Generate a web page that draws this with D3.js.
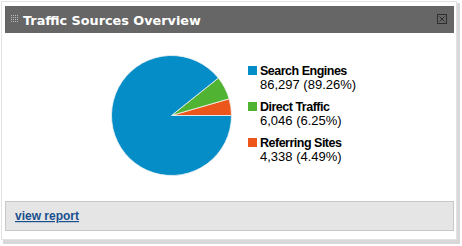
<!DOCTYPE html>
<html>
<head>
<meta charset="utf-8">
<script src="https://cdn.jsdelivr.net/npm/d3@7"></script>
<style>
  body { margin: 0; background: #fff; }
  svg { display: block; }
</style>
</head>
<body>
<div id="chart"></div>
<script>
// data
const sources = ['Search Engines', 'Direct Traffic', 'Referring Sites'];
const visits = [86297, 6046, 4338];
const shares = [89.26, 6.25, 4.49];
const colors = ['#058dc7', '#50b432', '#ed561b'];

const W = 462, H = 246;
const svg = d3.select('#chart').append('svg')
  .attr('width', W).attr('height', H);

// panel shadow + frame
svg.append('rect').attr('x', 3).attr('y', 3).attr('width', 457).attr('height', 241)
  .attr('fill', '#d8d8d8');
svg.append('rect').attr('x', 1.5).attr('y', 1.5).attr('width', 455).attr('height', 238)
  .attr('fill', '#fff').attr('stroke', '#e2e2e2');

// header
svg.append('rect').attr('x', 5).attr('y', 6).attr('width', 449).attr('height', 27)
  .attr('fill', '#666666');
svg.append('text').attr('x', 23).attr('y', 25)
  .attr('font-family', '"DejaVu Sans", Verdana, sans-serif')
  .attr('font-weight', 'bold').attr('font-size', 12.8)
  .attr('fill', '#fff')
  .text('Traffic Sources Overview');

// grip dots
const grip = svg.append('g').attr('fill', '#bdbdbd');
d3.range(4).forEach(r => d3.range(4).forEach(c => {
  grip.append('rect').attr('x', 11 + c * 2).attr('y', 15 + r * 2)
    .attr('width', 1).attr('height', 1);
}));

// close box
const close = svg.append('g').attr('stroke', '#2e2e2e').attr('fill', 'none');
close.append('rect').attr('x', 437.5).attr('y', 14.5).attr('width', 9).attr('height', 9);
close.append('path').attr('d', 'M439.5,16.5L444.5,21.5M444.5,16.5L439.5,21.5');

// pie: starts at 3 o'clock, runs counter-clockwise from the smallest slice
const pieData = sources.map((s, i) => ({ name: s, value: visits[i], color: colors[i] })).reverse();
const pie = d3.pie().value(d => d.value).sort(null)
  .startAngle(Math.PI / 2).endAngle(Math.PI / 2 - 2 * Math.PI);
const arc = d3.arc().innerRadius(0).outerRadius(60);

svg.append('g').attr('transform', 'translate(171.5,115.5)')
  .selectAll('path').data(pie(pieData)).join('path')
  .attr('d', arc)
  .attr('fill', d => d.data.color)
  .attr('stroke', '#f4f4f4').attr('stroke-width', 0.8);

// legend
const fmt = d3.format(',');
const rowY = d3.scalePoint().domain(sources).range([75, 147]);
const legend = svg.append('g').selectAll('g').data(sources).join('g')
  .attr('transform', d => `translate(248,${rowY(d)})`);
legend.append('rect').attr('x', 0).attr('y', -9).attr('width', 9).attr('height', 9)
  .attr('fill', (d, i) => colors[i]);
legend.append('text').attr('x', 12).attr('y', 0)
  .attr('font-family', 'Arial, "Liberation Sans", sans-serif')
  .attr('font-weight', 'bold').attr('font-size', 12.5).attr('letter-spacing', -0.5)
  .attr('fill', '#000')
  .text(d => d);
legend.append('text').attr('x', 12).attr('y', 14)
  .attr('font-family', 'Arial, "Liberation Sans", sans-serif')
  .attr('font-size', 13).attr('fill', '#000')
  .text((d, i) => `${fmt(visits[i])} (${shares[i].toFixed(2)}%)`);

// footer
svg.append('rect').attr('x', 5.5).attr('y', 201.5).attr('width', 448).attr('height', 29)
  .attr('fill', '#e5e5e5').attr('stroke', '#c8c8c8');
svg.append('text').attr('x', 15).attr('y', 220)
  .attr('font-family', 'Arial, "Liberation Sans", sans-serif')
  .attr('font-weight', 'bold').attr('font-size', 12)
  .attr('fill', '#1a4f8f').attr('text-decoration', 'underline')
  .text('view report');
</script>
</body>
</html>
